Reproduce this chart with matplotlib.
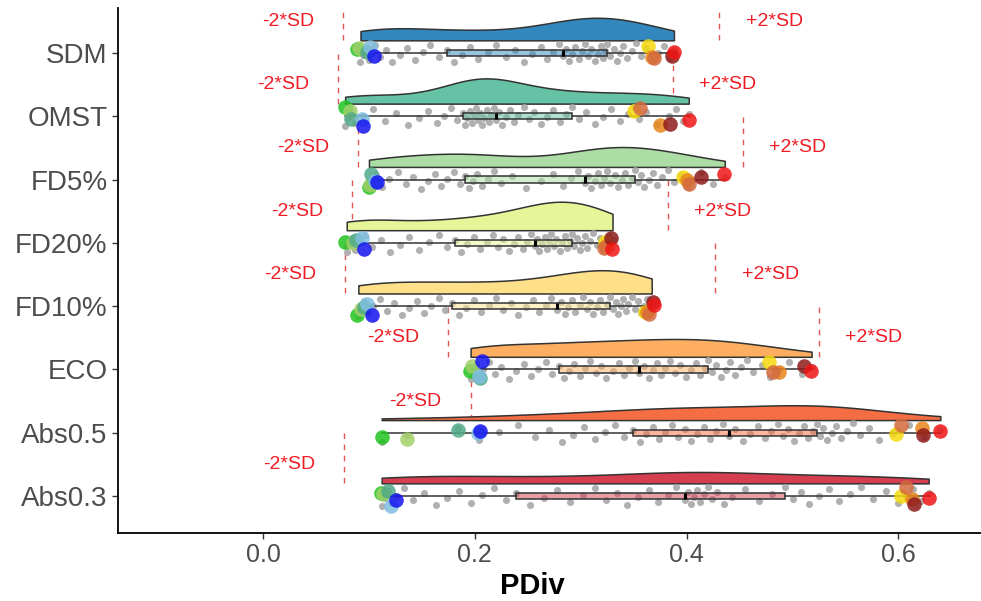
import matplotlib.pyplot as plt
import numpy as np

plt.rcParams['font.family'] = ['Liberation Sans', 'DejaVu Sans']

# categories, top to bottom
methods = ['SDM', 'OMST', 'FD5%', 'FD20%', 'FD10%', 'ECO', 'Abs0.5', 'Abs0.3']
fills = ['#3288BD', '#66C2A5', '#ABDDA4', '#E6F598', '#FEE08B', '#FDAE61', '#F46D43', '#D53E4F']

# PDiv values
pdiv_sdm = [0.092, 0.094, 0.097, 0.100, 0.103, 0.106, 0.110, 0.116, 0.122, 0.129, 0.136, 0.143, 0.151, 0.158, 0.166,
            0.174, 0.180, 0.188, 0.195, 0.203, 0.212, 0.220, 0.229, 0.238, 0.246, 0.254, 0.262, 0.268, 0.274, 0.279,
            0.283, 0.286, 0.289, 0.292, 0.295, 0.298, 0.301, 0.304, 0.307, 0.310, 0.313, 0.316, 0.319, 0.321, 0.323,
            0.325, 0.328, 0.331, 0.334, 0.337, 0.340, 0.344, 0.348, 0.352, 0.357, 0.362, 0.367, 0.373, 0.379, 0.384, 0.388]
pdiv_omst = [0.0775, 0.080, 0.083, 0.087, 0.094, 0.104, 0.115, 0.126, 0.137, 0.147, 0.156, 0.164, 0.171, 0.177, 0.183,
             0.189, 0.191, 0.193, 0.195, 0.197, 0.199, 0.201, 0.203, 0.205, 0.207, 0.209, 0.211, 0.213, 0.215, 0.218,
             0.220, 0.223, 0.226, 0.229, 0.233, 0.237, 0.241, 0.246, 0.251, 0.256, 0.262, 0.268, 0.274, 0.280, 0.286,
             0.292, 0.298, 0.305, 0.313, 0.321, 0.329, 0.337, 0.345, 0.350, 0.355, 0.362, 0.372, 0.383, 0.390, 0.397, 0.402]
pdiv_fd5 = [0.100, 0.103, 0.107, 0.112, 0.119, 0.127, 0.135, 0.142, 0.149, 0.156, 0.162, 0.168, 0.174, 0.180, 0.186,
            0.191, 0.194, 0.198, 0.202, 0.207, 0.212, 0.218, 0.225, 0.235, 0.248, 0.262, 0.274, 0.283, 0.291, 0.297,
            0.3036, 0.307, 0.310, 0.313, 0.316, 0.319, 0.322, 0.325, 0.328, 0.332, 0.335, 0.339, 0.342, 0.345, 0.348,
            0.351, 0.354, 0.357, 0.360, 0.364, 0.368, 0.372, 0.377, 0.382, 0.388, 0.395, 0.401, 0.405, 0.414, 0.425, 0.436]
pdiv_fd20 = [0.079, 0.081, 0.084, 0.087, 0.091, 0.096, 0.103, 0.111, 0.120, 0.129, 0.138, 0.147, 0.157, 0.166, 0.174,
             0.181, 0.187, 0.193, 0.199, 0.205, 0.211, 0.217, 0.222, 0.227, 0.232, 0.237, 0.241, 0.245, 0.249, 0.253,
             0.257, 0.259, 0.261, 0.263, 0.266, 0.268, 0.270, 0.272, 0.275, 0.277, 0.280, 0.282, 0.285, 0.287, 0.290,
             0.292, 0.294, 0.296, 0.299, 0.301, 0.304, 0.306, 0.309, 0.312, 0.315, 0.318, 0.321, 0.324, 0.327, 0.329, 0.330]
pdiv_fd10 = [0.090, 0.092, 0.095, 0.099, 0.104, 0.110, 0.117, 0.124, 0.131, 0.138, 0.145, 0.152, 0.159, 0.166, 0.172,
             0.178, 0.185, 0.192, 0.199, 0.206, 0.213, 0.220, 0.227, 0.234, 0.241, 0.248, 0.255, 0.261, 0.267, 0.272,
             0.2775, 0.281, 0.285, 0.288, 0.292, 0.295, 0.299, 0.302, 0.306, 0.309, 0.312, 0.315, 0.318, 0.321, 0.325,
             0.328, 0.330, 0.333, 0.335, 0.338, 0.340, 0.343, 0.345, 0.348, 0.351, 0.354, 0.357, 0.360, 0.363, 0.365, 0.367]
pdiv_eco = [0.196, 0.198, 0.201, 0.204, 0.208, 0.213, 0.219, 0.225, 0.232, 0.239, 0.246, 0.253, 0.260, 0.267, 0.273,
            0.279, 0.284, 0.289, 0.294, 0.299, 0.304, 0.309, 0.314, 0.319, 0.324, 0.330, 0.336, 0.341, 0.346, 0.351,
            0.3553, 0.360, 0.364, 0.368, 0.372, 0.376, 0.380, 0.384, 0.389, 0.394, 0.399, 0.404, 0.409, 0.413, 0.417,
            0.420, 0.424, 0.428, 0.432, 0.437, 0.441, 0.446, 0.451, 0.457, 0.463, 0.471, 0.479, 0.487, 0.497, 0.509, 0.518]
pdiv_abs05 = [0.112, 0.136, 0.184, 0.204, 0.223, 0.241, 0.257, 0.270, 0.282, 0.293, 0.303, 0.313, 0.323, 0.332, 0.341,
              0.3495, 0.356, 0.362, 0.368, 0.374, 0.380, 0.386, 0.392, 0.398, 0.404, 0.410, 0.416, 0.422, 0.428, 0.434,
              0.4396, 0.446, 0.453, 0.460, 0.467, 0.474, 0.480, 0.486, 0.491, 0.496, 0.501, 0.506, 0.511, 0.515, 0.519,
              0.523, 0.526, 0.529, 0.533, 0.537, 0.541, 0.546, 0.551, 0.557, 0.564, 0.572, 0.582, 0.595, 0.610, 0.624, 0.6396]
pdiv_abs03 = [0.112, 0.115, 0.118, 0.121, 0.126, 0.133, 0.142, 0.152, 0.163, 0.174, 0.185, 0.196, 0.207, 0.218, 0.229,
              0.2385, 0.252, 0.265, 0.278, 0.290, 0.302, 0.313, 0.324, 0.334, 0.344, 0.354, 0.364, 0.373, 0.382, 0.390,
              0.3985, 0.401, 0.404, 0.407, 0.410, 0.413, 0.416, 0.420, 0.424, 0.429, 0.435, 0.443, 0.455, 0.468, 0.481,
              0.4926, 0.500, 0.508, 0.516, 0.525, 0.534, 0.544, 0.554, 0.565, 0.576, 0.588, 0.600, 0.607, 0.614, 0.621, 0.6286]
pdiv = [pdiv_sdm, pdiv_omst, pdiv_fd5, pdiv_fd20, pdiv_fd10, pdiv_eco, pdiv_abs05, pdiv_abs03]

# mean -/+ 2*SD lines (nan = off the chart)
sd_lower = [0.0756, 0.071, 0.0897, 0.084, 0.0775, 0.175, 0.196, 0.0766]
sd_upper = [0.431, 0.387, 0.453, 0.382, 0.427, 0.525, np.nan, np.nan]

# highlighted pipelines
pipe_colors = ['#21c421', '#a0d06a', '#50aa88', '#80bfe0', '#1414f0',
               '#f5d90f', '#e8861a', '#d46a3e', '#8e1b1b', '#f01515']
hl_sdm = [0.089, 0.091, 0.098, 0.101, 0.105, 0.3634, 0.367, 0.3688, 0.386, 0.3876]
hl_omst = [0.0775, 0.082, 0.083, 0.093, 0.0948, 0.350, 0.3744, 0.356, 0.3845, 0.4018]
hl_fd5 = [0.1005, 0.101, 0.102, 0.106, 0.1074, 0.3965, 0.400, 0.4018, 0.4138, 0.4355]
hl_fd20 = [0.0775, 0.0853, 0.088, 0.093, 0.0954, 0.323, 0.324, 0.3215, 0.3288, 0.3294]
hl_fd10 = [0.089, 0.0923, 0.095, 0.098, 0.1033, 0.361, 0.363, 0.364, 0.3678, 0.3688]
hl_eco = [0.1956, 0.197, 0.205, 0.204, 0.2066, 0.4774, 0.4868, 0.482, 0.5105, 0.5174]
hl_abs05 = [0.1121, 0.1357, 0.184, 0.2034, 0.2044, 0.598, 0.6223, 0.6024, 0.6229, 0.6396]
hl_abs03 = [0.1112, 0.1137, 0.1184, 0.1206, 0.1254, 0.6024, 0.6128, 0.6071, 0.615, 0.6286]
highlight = [hl_sdm, hl_omst, hl_fd5, hl_fd20, hl_fd10, hl_eco, hl_abs05, hl_abs03]

# vertical jitter of the highlighted dots
hl_jitter = [[0.06, 0.08, 0.02, 0.10, -0.05, 0.11, -0.06, -0.08, -0.04, 0.02],
             [0.15, 0.08, -0.05, -0.05, -0.16, 0.08, -0.14, 0.13, -0.12, -0.06],
             [-0.12, -0.08, 0.09, -0.02, -0.04, 0.04, -0.01, -0.07, 0.04, 0.09],
             [0.02, 0.0, 0.05, 0.08, -0.09, 0.02, -0.05, -0.08, 0.08, -0.10],
             [-0.14, -0.04, -0.02, 0.03, -0.14, -0.09, -0.10, -0.12, 0.07, 0.02],
             [-0.03, 0.06, -0.13, -0.10, 0.13, 0.12, -0.04, -0.04, 0.06, -0.02],
             [-0.07, -0.10, 0.04, -0.01, 0.03, -0.02, 0.08, 0.12, -0.03, 0.03],
             [0.05, 0.03, 0.08, -0.15, -0.06, 0.0, -0.04, 0.15, -0.13, -0.03]]


def kde(vals, grid):
    vals = np.asarray(vals)
    n = len(vals)
    q75, q25 = np.percentile(vals, [75, 25])
    bw = 0.9 * min(vals.std(ddof=1), (q75 - q25) / 1.34) * n ** -0.2
    z = (grid[:, None] - vals[None, :]) / bw
    return np.exp(-0.5 * z ** 2).sum(axis=1) / (n * bw * np.sqrt(2 * np.pi))


fig = plt.figure(figsize=(9.81, 6.01), dpi=100)
ax = fig.add_axes([0.1203, 0.1131, 0.8797, 0.8736])

ypos = np.arange(len(methods))[::-1] + 1.0

grids = [np.linspace(min(v), max(v), 300) for v in pdiv]
dens = [kde(v, g) for v, g in zip(pdiv, grids)]
dmax = max(d.max() for d in dens)

for i, vals in enumerate(pdiv):
    y = ypos[i]
    # half violin
    h = dens[i] / dmax * 0.45
    ax.fill_between(grids[i], y + 0.2, y + 0.2 + h, facecolor=fills[i],
                    edgecolor='#333333', linewidth=1.1, zorder=2)
    # jittered raw points
    n = len(vals)
    jit = (((np.arange(n) * 23) % n) / (n - 1) - 0.5) * 0.3
    ax.scatter(vals, y + jit, s=26, color='#a3a3a3', alpha=0.85, linewidths=0, zorder=3)
    # boxplot
    bp = ax.boxplot(vals, positions=[y], orientation='horizontal', widths=0.1,
                    patch_artist=True, showfliers=False, showcaps=False,
                    manage_ticks=False, zorder=4,
                    boxprops=dict(facecolor=fills[i] + '80', edgecolor='#333333', linewidth=1.1),
                    whiskerprops=dict(color='#333333', linewidth=1.1),
                    medianprops=dict(color='black', linewidth=2.2))
    # highlighted pipelines
    for k, xv in enumerate(highlight[i]):
        ax.scatter(xv, y + hl_jitter[i][k], s=110, color=pipe_colors[k], alpha=0.85,
                   linewidths=0, zorder=5)
    # -2*SD / +2*SD markers
    for xv, lab, dx in [(sd_lower[i], '-2*SD', -0.052), (sd_upper[i], '+2*SD', 0.052)]:
        if np.isnan(xv):
            continue
        ax.plot([xv, xv], [y + 0.2, y + 1.0], color='#e05555', linewidth=1.0,
                linestyle=(0, (4, 4)), zorder=1)
        ax.text(xv + dx, y + 0.5, lab, color='#ee1c24', fontsize=14, ha='center', va='center', zorder=6)

ax.set_xlim(-0.137, 0.678)
ax.set_ylim(0.4154, 8.711)
ax.set_yticks(ypos, methods)
ax.set_xticks([0.0, 0.2, 0.4, 0.6], ['0.0', '0.2', '0.4', '0.6'])
ax.tick_params(axis='y', labelsize=20, labelcolor='#4d4d4d', length=4, width=1, color='#333333')
ax.tick_params(axis='x', labelsize=18, labelcolor='#4d4d4d', length=4, width=1, color='#333333')
ax.set_xlabel('PDiv', fontsize=21, fontweight='bold')
ax.xaxis.set_label_coords(0.48, -0.075)
for s in ['top', 'right']:
    ax.spines[s].set_visible(False)
for s in ['left', 'bottom']:
    ax.spines[s].set_linewidth(1.3)

fig.savefig('out.png', dpi=100)
